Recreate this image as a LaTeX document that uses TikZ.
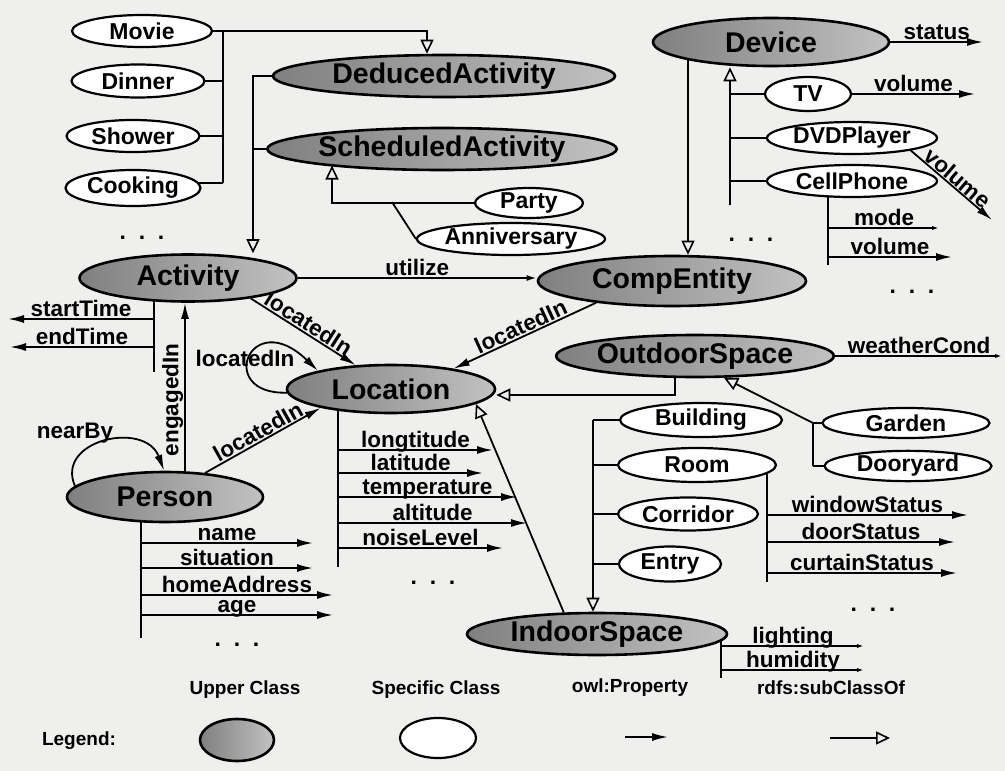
\documentclass[tikz,border=0pt]{standalone}
\usepackage{fontspec}
\setmainfont{Liberation Sans}
\usetikzlibrary{arrows.meta,shapes.geometric}
\definecolor{bgc}{RGB}{239,239,237}
\pgfdeclarelayer{back}
\pgfdeclarelayer{bg}
\pgfsetlayers{back,bg,main}
\newcommand{\fUp}{\fontsize{28.5}{30}\bfseries\selectfont}
\newcommand{\fSp}{\fontsize{23}{25}\bfseries\selectfont}
\newcommand{\fPr}{\fontsize{22.5}{24}\bfseries\selectfont}
\newcommand{\fLg}{\fontsize{19}{21}\bfseries\selectfont}
\begin{document}
\begin{tikzpicture}[x=1pt,y=-1pt,
  upper/.style={ellipse, draw, line width=2.6pt, left color=black!50, middle color=black!44, right color=black!24, inner sep=0pt, font=\fUp},
  spec/.style={ellipse, draw, line width=2.2pt, fill=white, inner sep=0pt, font=\fSp},
  ln/.style={line width=1.8pt},
  prop/.style={ln, -{Latex[length=16pt,width=8pt]}},
  sprop/.style={ln, -{Latex[length=10pt,width=6pt]}},
  wprop/.style={ln, -{Latex[length=8pt,width=4pt]}},
  sub/.style={ln, -{Triangle[open,length=14pt,width=13pt,fill=bgc,line width=1.6pt]}},
  plab/.style={font=\fPr, anchor=base, yshift=2.5pt, inner sep=0pt},
  slab/.style={font=\fPr, midway, sloped, above, inner sep=1pt},
  dots/.style={font=\fSp, inner sep=0pt},
]
\useasboundingbox (0,0) rectangle (1005,771);
\begin{pgfonlayer}{back}
\fill[bgc] (0,0) rectangle (1005,771);
\end{pgfonlayer}

% ---------- nodes ----------
\node[spec, minimum width=140pt, minimum height=32pt] (Movie) at (142,31) {Movie};
\node[spec, minimum width=133pt, minimum height=33pt] (Dinner) at (138,81) {Dinner};
\node[spec, minimum width=133pt, minimum height=32pt] (Shower) at (133,136) {Shower};
\node[spec, minimum width=135pt, minimum height=36pt] (Cooking) at (133,188) {Cooking};
\node[upper, minimum width=342pt, minimum height=42pt] (DeducedActivity) at (444,76) {DeducedActivity};
\node[upper, minimum width=349pt, minimum height=42pt] (ScheduledActivity) at (442,149) {ScheduledActivity};
\node[spec, minimum width=108pt, minimum height=30pt] (Party) at (529,203) {Party};
\node[spec, minimum width=173pt, minimum height=32pt] (Anniversary) at (511,239) {Anniversary};
\node[upper, minimum width=217pt, minimum height=47pt] (Activity) at (188,278) {Activity};
\node[upper, minimum width=268pt, minimum height=50pt] (CompEntity) at (672,281) {CompEntity};
\node[upper, minimum width=236pt, minimum height=48pt] (Device) at (771,42) {Device};
\node[spec, minimum width=86pt, minimum height=34pt] (TV) at (808,94) {TV};
\node[spec, minimum width=170pt, minimum height=32pt] (DVDPlayer) at (852,138) {DVDPlayer};
\node[spec, minimum width=170pt, minimum height=32pt] (CellPhone) at (852,181) {CellPhone};
\node[upper, minimum width=208pt, minimum height=48pt] (Location) at (391,389) {Location};
\node[upper, minimum width=260pt, minimum height=42pt] (OutdoorSpace) at (695,356) {OutdoorSpace};
\node[spec, minimum width=167pt, minimum height=30pt] (Garden) at (906,423) {Garden};
\node[spec, minimum width=167pt, minimum height=30pt] (Dooryard) at (908,466) {Dooryard};
\node[spec, minimum width=162pt, minimum height=34pt] (Building) at (701,420) {Building};
\node[spec, minimum width=158pt, minimum height=34pt] (Room) at (697,465) {Room};
\node[spec, minimum width=140pt, minimum height=33pt] (Corridor) at (688,514) {Corridor};
\node[spec, minimum width=102pt, minimum height=35pt] (Entry) at (670,564) {Entry};
\node[upper, minimum width=260pt, minimum height=42pt] (IndoorSpace) at (597,634) {IndoorSpace};
\node[upper, minimum width=196pt, minimum height=50pt] (Person) at (165,497) {Person};

% dots
\node[dots] (d1) at (142,238) {.\ \ .\ \ .};
\node[dots] (d2) at (751,240) {.\ \ .\ \ .};
\node[dots] (d3) at (912,292) {.\ \ .\ \ .};
\node[dots] (d4) at (433,583) {.\ \ .\ \ .};
\node[dots] (d5) at (237,645) {.\ \ .\ \ .};
\node[dots] (d6) at (873,610) {.\ \ .\ \ .};

% ---------- coordinates ----------
\coordinate (tA) at (223,31);
\coordinate (tAb) at (223,183);
\coordinate (dA) at (427,0);
\coordinate (tB) at (253,73);
\coordinate (tC) at (332,202);
\coordinate (aJ) at (392,202);
\coordinate (tD) at (154,372);
\coordinate (st) at (8,319);
\coordinate (et) at (10,347);
\coordinate (eng) at (185,0);
\coordinate (tP) at (141,638);
\coordinate (pname) at (313,543);
\coordinate (psit) at (313,568);
\coordinate (phome) at (333,595);
\coordinate (page) at (333,615);
\coordinate (tL) at (338,567);
\coordinate (plong) at (493,450);
\coordinate (plat) at (483,473);
\coordinate (ptemp) at (517,497);
\coordinate (palt) at (527,523);
\coordinate (pnoise) at (503,548);
\coordinate (dv) at (688,0);
\coordinate (tE) at (730,205);
\coordinate (pstat) at (983,0);
\coordinate (ptv) at (975,0);
\coordinate (pdvd) at (992,220);
\coordinate (tF) at (828,265);
\coordinate (pmode) at (940,228);
\coordinate (pvol) at (952,257);
\coordinate (oL) at (675,395);
\coordinate (pwc) at (1003,0);
\coordinate (tG) at (813,466);
\coordinate (tH) at (593,420);
\coordinate (tR) at (767,582);
\coordinate (pwin) at (968,515);
\coordinate (pdoor) at (955,542);
\coordinate (pcurt) at (957,573);
\coordinate (tI) at (721,678);
\coordinate (plight) at (865,646);
\coordinate (phum) at (865,670);

% ---------- connectors ----------
\begin{pgfonlayer}{bg}
% activities
\draw[ln] (tA) -- (tAb);
\draw[sub] (Movie.east) -| (DeducedActivity.north -| dA);
\draw[ln] (Dinner.center) -- (Dinner.center -| tA);
\draw[ln] (Shower.center) -- (Shower.center -| tA);
\draw[ln] (Cooking.center |- tAb) -- (tAb);
\draw[sub] (DeducedActivity.center) -| (Activity.north -| tB);
\draw[ln] (ScheduledActivity.center) -- (ScheduledActivity.center -| tB);
\draw[sub] (Party.center) -| (ScheduledActivity.188 -| tC);
\draw[ln] (aJ) -- (Anniversary.west);
% activity properties
\draw[ln] (Activity.center -| tD) -- (tD);
\draw[prop] (tD |- st) -- (st) node[plab, midway]{startTime};
\draw[prop] (tD |- et) -- (et) node[plab, midway]{endTime};
\draw[sprop] (Activity.east) -- (Activity.east -| CompEntity.west) node[plab, midway]{utilize};
\draw[prop] (Activity.-18) -- (Location.146) node[slab]{locatedIn};
\draw[prop] (Person.center -| eng) -- (Activity.south -| eng) node[slab]{engagedIn};
% person
\draw[prop] (Person.173) .. controls (55,440) and (145,420) .. (Person.92);
\draw[prop] (Person.31) -- (Location.195) node[slab]{locatedIn};
\draw[ln] (Person.center -| tP) -- (tP);
\draw[prop] (tP |- pname) -- (pname) node[plab, midway]{name};
\draw[prop] (tP |- psit) -- (psit) node[plab, midway]{situation};
\draw[prop] (tP |- phome) -- (phome) node[plab, midway]{homeAddress};
\draw[prop] (tP |- page) -- (page) node[plab, midway]{age};
% location
\draw[prop] (Location.182) .. controls (215,395) and (250,305) .. (Location.166);
\draw[ln] (Location.center -| tL) -- (tL);
\draw[prop] (tL |- plong) -- (plong) node[plab, midway]{longtitude};
\draw[prop] (tL |- plat) -- (plat) node[plab, midway]{latitude};
\draw[prop] (tL |- ptemp) -- (ptemp) node[plab, midway]{temperature};
\draw[prop] (tL |- palt) -- (palt) node[plab, midway]{altitude};
\draw[prop] (tL |- pnoise) -- (pnoise) node[plab, midway]{noiseLevel};
% device / compentity
\draw[sub] (Device.center -| dv) -- (CompEntity.north -| dv);
\draw[prop] (CompEntity.196) -- (Location.18) node[slab]{locatedIn};
\draw[sub] (tE) -- (Device.south -| tE);
\draw[ln] (TV.center) -- (TV.center -| tE);
\draw[ln] (DVDPlayer.center) -- (DVDPlayer.center -| tE);
\draw[ln] (CellPhone.center) -- (CellPhone.center -| tE);
\draw[prop] (Device.east) -- (Device.east -| pstat) node[plab, midway]{status};
\draw[prop] (TV.east) -- (TV.east -| ptv) node[plab, midway]{volume};
\draw[prop] (DVDPlayer.-12) -- (pdvd) node[slab]{volume};
\draw[ln] (CellPhone.center -| tF) -- (tF);
\draw[wprop] (tF |- pmode) -- (pmode) node[plab, midway]{mode};
\draw[prop] (tF |- pvol) -- (pvol) node[plab, midway]{volume};
% spaces
\draw[sub] (OutdoorSpace.center -| oL) |- (Location.east |- oL);
\draw[sub] (IndoorSpace.147) -- (Location.-10);
\draw[wprop] (OutdoorSpace.east) -- (OutdoorSpace.east -| pwc) node[plab, midway]{weatherCond};
\draw[sub] (tG) -- (Garden.center -| tG) -- (OutdoorSpace.-37);
\draw[ln] (Garden.center) -- (Garden.center -| tG);
\draw[ln] (Dooryard.center) -- (tG);
\draw[sub] (tH) -- (IndoorSpace.north -| tH);
\draw[ln] (Building.center) -- (tH);
\draw[ln] (Room.center) -- (Room.center -| tH);
\draw[ln] (Corridor.center) -- (Corridor.center -| tH);
\draw[ln] (Entry.center) -- (Entry.center -| tH);
\draw[ln] (Room.center -| tR) -- (tR);
\draw[prop] (tR |- pwin) -- (pwin) node[plab, midway]{windowStatus};
\draw[prop] (tR |- pdoor) -- (pdoor) node[plab, midway]{doorStatus};
\draw[prop] (tR |- pcurt) -- (pcurt) node[plab, midway]{curtainStatus};
\draw[ln] (IndoorSpace.center -| tI) -- (tI);
\draw[wprop] (tI |- plight) -- (plight) node[plab, midway]{lighting};
\draw[wprop] (tI |- phum) -- (phum) node[plab, midway]{humidity};
\end{pgfonlayer}

% loop labels
\node[font=\fPr, inner sep=0pt] (nb) at (75,433) {nearBy};
\node[font=\fPr, inner sep=0pt] (li) at (245,358) {locatedIn};

% ---------- legend ----------
\node[font=\fLg] (lg) at (79,741) {Legend:};
\node[font=\fLg] (luc) at (245,690) {Upper Class};
\node[upper, minimum width=74pt, minimum height=42pt] (lue) at (237,740) {};
\node[font=\fLg] (lsc) at (436,690) {Specific Class};
\node[spec, minimum width=76pt, minimum height=40pt] (lse) at (438,738) {};
\node[font=\fLg] (lop) at (630,688) {owl:Property};
\coordinate (lpa) at (625,737);
\coordinate (lpb) at (668,737);
\draw[prop] (lpa) -- (lpb);
\node[font=\fLg] (lsb) at (831,688) {rdfs:subClassOf};
\coordinate (lsa) at (830,738);
\coordinate (lsz) at (890,738);
\draw[sub] (lsa) -- (lsz);
\end{tikzpicture}
\end{document}
